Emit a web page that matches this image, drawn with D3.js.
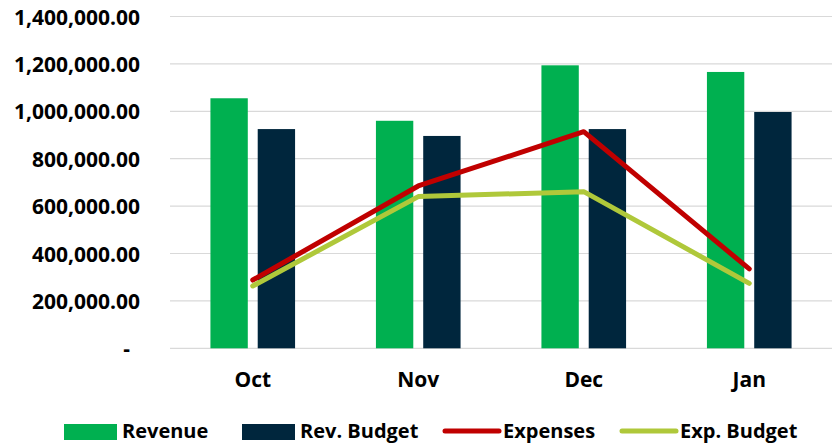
<!DOCTYPE html>
<html>
<head>
<meta charset="utf-8">
<script src="https://cdn.jsdelivr.net/npm/d3@7"></script>
<style>
	html, body { margin: 0; padding: 0; background: #fff; }
	svg text { font-family: "Open Sans", "Liberation Sans", sans-serif; font-weight: bold; fill: #000; }
</style>
</head>
<body>
<div id="chart"></div>
<script>

// chart values
var months = ["Oct", "Nov", "Dec", "Jan"];
var revenue = [1055000, 960000, 1194000, 1166000];
var revBudget = [925000, 896000, 925000, 997000];
var expenses = [288000, 685000, 914000, 335000];
var expBudget = [263000, 640000, 661000, 274000];
var yTicks = [0, 200000, 400000, 600000, 800000, 1000000, 1200000, 1400000];

var barSeries = [
	{ name: "Revenue", values: revenue, color: "#00b050" },
	{ name: "Rev. Budget", values: revBudget, color: "#00263d" }
];
var lineSeries = [
	{ name: "Expenses", values: expenses, color: "#c00000" },
	{ name: "Exp. Budget", values: expBudget, color: "#afc83a" }
];

var width = 836, height = 444,
	margin = {top: 16.5, right: 4, bottom: 95.7, left: 170};

var svg = d3.select("#chart")
	.append("svg")
	.attr("width", width)
	.attr("height", height);

var x0 = d3.scaleBand()
	.domain(months)
	.range([margin.left, width - margin.right])
	.paddingInner(0)
	.paddingOuter(0);

var x1 = d3.scaleBand()
	.domain(barSeries.map(function(d) { return d.name; }))
	.range([0, x0.bandwidth()])
	.paddingInner(0.21)
	.paddingOuter(0.855);

var y = d3.scaleLinear()
	.domain([0, 1400000])
	.range([height - margin.bottom, margin.top]);

// gridlines
svg.append("g")
	.selectAll("line")
	.data(yTicks)
	.enter().append("line")
		.attr("x1", margin.left)
		.attr("x2", width - margin.right)
		.attr("y1", function(d) { return y(d); })
		.attr("y2", function(d) { return y(d); })
		.attr("stroke", "#d9d9d9")
		.attr("stroke-width", 1.2);

// y axis labels
var fmt = d3.format(",.2f");
var yAxis = d3.axisLeft(y)
	.tickValues(yTicks)
	.tickSize(0)
	.tickPadding(0)
	.tickFormat(function(d) { return d === 0 ? "-" : fmt(d); });

var yg = svg.append("g")
	.attr("transform", "translate(140,0)")
	.call(yAxis);
yg.select(".domain").remove();
yg.selectAll("text")
	.style("font-size", "21px")
	.attr("dy", "0.36em")
	.attr("x", function(d) { return d === 0 ? -10 : 0; });

// x axis labels
var xAxis = d3.axisBottom(x0).tickSize(0).tickPadding(0);
var xg = svg.append("g")
	.attr("transform", "translate(0,372)")
	.call(xAxis);
xg.select(".domain").remove();
xg.selectAll("text")
	.style("font-size", "21px")
	.attr("dy", "0.72em");

// bars
barSeries.forEach(function(s) {
	svg.append("g")
		.selectAll("rect")
		.data(s.values)
		.enter().append("rect")
			.attr("x", function(d, i) { return x0(months[i]) + x1(s.name); })
			.attr("y", function(d) { return y(d); })
			.attr("width", x1.bandwidth())
			.attr("height", function(d) { return y(0) - y(d); })
			.attr("fill", s.color);
});

// lines
var line = d3.line()
	.x(function(d, i) { return x0(months[i]) + x0.bandwidth() / 2; })
	.y(function(d) { return y(d); });

lineSeries.forEach(function(s) {
	svg.append("path")
		.datum(s.values)
		.attr("d", line)
		.attr("fill", "none")
		.attr("stroke", s.color)
		.attr("stroke-width", 5)
		.attr("stroke-linejoin", "round")
		.attr("stroke-linecap", "round");
});

// legend
var legendItems = [
	{ name: "Revenue", color: "#00b050", type: "rect", x: 64 },
	{ name: "Rev. Budget", color: "#00263d", type: "rect", x: 242 },
	{ name: "Expenses", color: "#c00000", type: "line", x: 445 },
	{ name: "Exp. Budget", color: "#afc83a", type: "line", x: 622 }
];

var legend = svg.append("g").attr("class", "legend");
var item = legend.selectAll("g")
	.data(legendItems)
	.enter().append("g")
		.attr("transform", function(d) { return "translate(" + d.x + ",0)"; });

item.filter(function(d) { return d.type === "rect"; })
	.append("rect")
		.attr("x", 0)
		.attr("y", 424)
		.attr("width", 53)
		.attr("height", 16)
		.attr("fill", function(d) { return d.color; });

item.filter(function(d) { return d.type === "line"; })
	.append("line")
		.attr("x1", 0)
		.attr("x2", 54)
		.attr("y1", 431)
		.attr("y2", 431)
		.attr("stroke", function(d) { return d.color; })
		.attr("stroke-width", 5)
		.attr("stroke-linecap", "round");

item.append("text")
	.attr("x", 58)
	.attr("y", 438)
	.style("font-size", "20px")
	.text(function(d) { return d.name; });

</script>
</body>
</html>
